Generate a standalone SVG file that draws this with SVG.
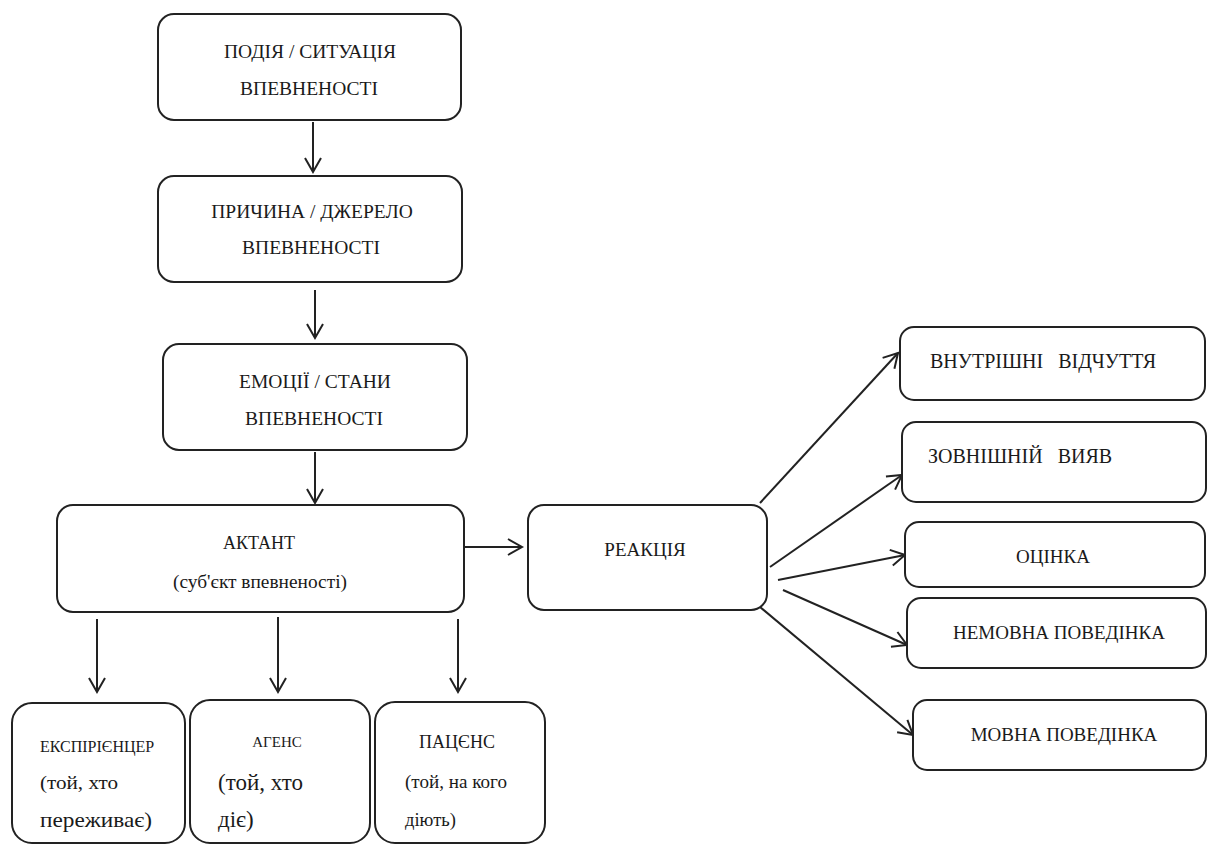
<svg xmlns="http://www.w3.org/2000/svg" width="1208" height="845" viewBox="0 0 1208 845">
<defs>
<marker id="arr" markerUnits="userSpaceOnUse" markerWidth="20" markerHeight="20" viewBox="-16 -10 20 20" refX="0" refY="0" orient="auto">
<path d="M-14,-8 L0,0 L-14,8" fill="none" stroke="#222" stroke-width="2" stroke-linejoin="miter"/>
</marker>
<style>
.box{fill:#fff;stroke:#222;stroke-width:2}
text{font-family:'Liberation Serif','DejaVu Serif',serif;font-size:19px;fill:#1a1a1a;text-anchor:middle}
text.l{text-anchor:start}
.c line{stroke:#222;stroke-width:2;marker-end:url(#arr)}
</style>
</defs>
<rect width="1208" height="845" fill="#fff"/>
<g class="c" id="connectors">
<line x1="313" y1="122" x2="313" y2="172"/>
<line x1="315" y1="290" x2="315" y2="338"/>
<line x1="315" y1="452" x2="315" y2="503"/>
<line x1="464" y1="547" x2="522" y2="547"/>
<line x1="97" y1="619" x2="97" y2="692"/>
<line x1="278" y1="617" x2="278" y2="692"/>
<line x1="458" y1="619" x2="458" y2="692"/>
<line x1="760" y1="503" x2="898" y2="353"/>
<line x1="770" y1="567" x2="902" y2="475"/>
<line x1="778" y1="580" x2="905" y2="555"/>
<line x1="783" y1="590" x2="907" y2="645"/>
<line x1="760" y1="607" x2="913" y2="735"/>
</g>
<g font-family="Liberation Serif, serif">
<g id="n1"><rect class="box" x="158" y="14" width="303" height="106" rx="16"/>
<text x="310" y="58" style="font-size:19.5px">ПОДІЯ / СИТУАЦІЯ</text>
<text x="309" y="95" style="font-size:19.5px">ВПЕВНЕНОСТІ</text></g>
<g id="n2"><rect class="box" x="158" y="176" width="304" height="106" rx="16"/>
<text x="312" y="218" style="font-size:19.5px">ПРИЧИНА / ДЖЕРЕЛО</text>
<text x="311" y="254" style="font-size:19.5px">ВПЕВНЕНОСТІ</text></g>
<g id="n3"><rect class="box" x="163" y="344" width="304" height="106" rx="16"/>
<text x="315" y="388" style="font-size:19.5px">ЕМОЦІЇ / СТАНИ</text>
<text x="314" y="425" style="font-size:19.5px">ВПЕВНЕНОСТІ</text></g>
<g id="actant"><rect class="box" x="57" y="505" width="407" height="107" rx="16"/>
<text x="259" y="549" style="font-size:18px">АКТАНТ</text>
<text x="260" y="588" style="font-size:18px" textLength="174" lengthAdjust="spacingAndGlyphs">(суб'єкт впевненості)</text></g>
<g id="reaction"><rect class="box" x="528" y="505" width="239" height="105" rx="16"/>
<text x="645" y="556">РЕАКЦІЯ</text></g>
<g id="r1"><rect class="box" x="900" y="327" width="305" height="73" rx="14"/>
<text class="l" x="930" y="368" style="font-size:20px" xml:space="preserve">ВНУТРІШНІ   ВІДЧУТТЯ</text></g>
<g id="r2"><rect class="box" x="902" y="422" width="304" height="80" rx="14"/>
<text class="l" x="928" y="463" style="font-size:20px" xml:space="preserve">ЗОВНІШНІЙ   ВИЯВ</text></g>
<g id="r3"><rect class="box" x="905" y="522" width="300" height="65" rx="14"/>
<text x="1053" y="563">ОЦІНКА</text></g>
<g id="r4"><rect class="box" x="907" y="598" width="299" height="70" rx="14"/>
<text x="1059" y="639">НЕМОВНА ПОВЕДІНКА</text></g>
<g id="r5"><rect class="box" x="913" y="700" width="293" height="70" rx="14"/>
<text x="1064" y="741">МОВНА ПОВЕДІНКА</text></g>
<g id="b1"><rect class="box" x="12" y="703" width="173" height="140" rx="20"/>
<text class="l" x="40" y="752" style="font-size:16px">ЕКСПІРІЄНЦЕР</text>
<text class="l" x="40" y="789" style="font-size:19px" textLength="78" lengthAdjust="spacingAndGlyphs">(той, хто</text>
<text class="l" x="40" y="827" style="font-size:21px" textLength="112" lengthAdjust="spacingAndGlyphs">переживає)</text></g>
<g id="b2"><rect class="box" x="190" y="700" width="180" height="143" rx="20"/>
<text x="277" y="747" style="font-size:15px">АГЕНС</text>
<text class="l" x="218" y="790" style="font-size:23px">(той, хто</text>
<text class="l" x="218" y="827" style="font-size:23px">діє)</text></g>
<g id="b3"><rect class="box" x="375" y="702" width="170" height="141" rx="20"/>
<text x="457" y="748" style="font-size:18px">ПАЦЄНС</text>
<text class="l" x="405" y="788" style="font-size:18.5px" textLength="102" lengthAdjust="spacingAndGlyphs">(той, на кого</text>
<text class="l" x="405" y="826" style="font-size:18.5px">діють)</text></g>
</g>
</svg>
